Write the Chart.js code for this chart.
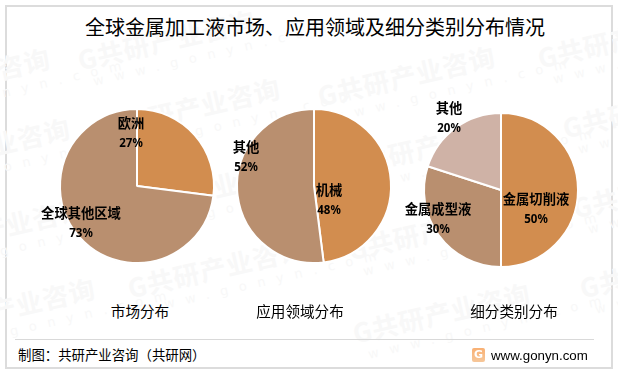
<!DOCTYPE html>
<html>
<head>
<meta charset="utf-8">
<script src="https://cdn.jsdelivr.net/npm/chart.js@4"></script>
<style>
html, body { margin: 0; padding: 0; background: #fff; }
body { width: 618px; height: 376px; overflow: hidden; position: relative; font-family: "Noto Sans CJK SC", sans-serif; color: #000; }
#frame { position: absolute; left: 5px; top: 5px; width: 604px; height: 360px; border: 2px solid #dcdcdc; }
.t { position: absolute; white-space: nowrap; line-height: 1; transform: translate(-50%, -50%); }
.wm { position: absolute; white-space: nowrap; color: #f8f8f8; transform: rotate(-13deg); transform-origin: left top; line-height: 1; }
.wm b { display: block; font-size: 26px; letter-spacing: 1px; }
.wm i { display: block; font: 13px "DejaVu Sans", sans-serif; letter-spacing: 11px; margin: 4px 0 0 10px; }
canvas { position: absolute; }
#rule { position: absolute; left: 15px; top: 339px; width: 579px; height: 1px; background: #d9d9d9; }
#logo { position: absolute; left: 472px; top: 348px; width: 13px; height: 14px; border-radius: 2px; background: linear-gradient(#f9b073, #f6c79a); color: #fff; font: bold 11px/14px "DejaVu Sans"; text-align: center; }
</style>
</head>
<body>
<div id="frame"></div>
<div id="marks"></div>

<canvas id="pieMarket" width="200" height="200" style="left:37px;top:86px"></canvas>
<canvas id="pieApplication" width="200" height="200" style="left:214px;top:86px"></canvas>
<canvas id="pieSegment" width="200" height="200" style="left:401px;top:90px"></canvas>

<div class="t" style="left:315px;top:27px;font-size:20px">全球金属加工液市场、应用领域及细分类别分布情况</div>
<div class="t" style="left:140px;top:311px;font-size:14.6px">市场分布</div>
<div class="t" style="left:300px;top:311px;font-size:14.6px">应用领域分布</div>
<div class="t" style="left:514px;top:311px;font-size:14.6px">细分类别分布</div>
<div id="rule"></div>
<div class="t" style="left:18px;top:355px;font-size:13.4px;transform:translate(0,-50%)">制图：共研产业咨询（共研网）</div>
<div id="logo">G</div>
<div class="t" style="left:491px;top:355px;font:13.3px 'Liberation Sans';transform:translate(0,-50%)">www.gonyn.com</div>

<script>
const marketLabels = ['欧洲', '全球其他区域'];
const marketValues = [27, 73];

const applicationLabels = ['机械', '其他'];
const applicationValues = [48, 52];

const segmentLabels = ['金属切削液', '金属成型液', '其他'];
const segmentValues = [50, 30, 20];

const sliceColors = ['#D28D4F', '#B98F6F', '#CFB2A6'];

// offset of each slice label from the pie centre, in px
const marketLabelOffsets = [[-6, -63], [-56, 27]];
const applicationLabelOffsets = [[15, 4], [-68, -39]];
const segmentLabelOffsets = [[35, 9], [-63, 19], [-52, -82]];

// repeated background stamp, x / y of each
const stampX = [-130, 75, 315, 535, -110, 100, 340, 560, -95, 112, 345, 570, -85, 125, 350, 577];
const stampY = [85, 47, 83, 45, 155, 115, 153, 115, 235, 197, 237, 195, 315, 275, 320, 275];

const marksEl = document.getElementById('marks');
stampX.forEach(function (x, i) {
    const el = document.createElement('div');
    el.className = 'wm';
    el.style.left = x + 'px';
    el.style.top = stampY[i] + 'px';
    el.innerHTML = '<b>G共研产业咨询</b><i>www.gonyn.com</i>';
    marksEl.appendChild(el);
});

const sliceLabelPlugin = {
    id: 'sliceLabels',
    afterDatasetsDraw(chart, args, opts) {
        const ctx = chart.ctx;
        const meta = chart.getDatasetMeta(0);
        const values = chart.data.datasets[0].data;
        ctx.save();
        ctx.fillStyle = '#000';
        ctx.textAlign = 'center';
        ctx.textBaseline = 'middle';
        meta.data.forEach(function (arc, i) {
            const x = arc.x + opts.offsets[i][0];
            const y = arc.y + opts.offsets[i][1];
            ctx.font = 'bold 13.3px "Noto Sans CJK SC"';
            ctx.fillText(chart.data.labels[i], x, y);
            ctx.font = 'bold 11.5px "Noto Sans", "Noto Sans CJK SC"';
            ctx.fillText(values[i] + '%', x, y + 21);
        });
        ctx.restore();
    }
};

function makePie(id, labels, values, offsets) {
    return new Chart(document.getElementById(id), {
        type: 'pie',
        data: {
            labels: labels,
            datasets: [{
                data: values,
                backgroundColor: sliceColors.slice(0, values.length),
                borderColor: '#ffffff',
                borderWidth: 2
            }]
        },
        plugins: [sliceLabelPlugin],
        options: {
            responsive: false,
            animation: false,
            layout: { padding: 22 },
            plugins: {
                legend: { display: false },
                tooltip: { enabled: false },
                sliceLabels: { offsets: offsets }
            }
        }
    });
}

const pieMarket = makePie('pieMarket', marketLabels, marketValues, marketLabelOffsets);
const pieApplication = makePie('pieApplication', applicationLabels, applicationValues, applicationLabelOffsets);
const pieSegment = makePie('pieSegment', segmentLabels, segmentValues, segmentLabelOffsets);
</script>
</body>
</html>
